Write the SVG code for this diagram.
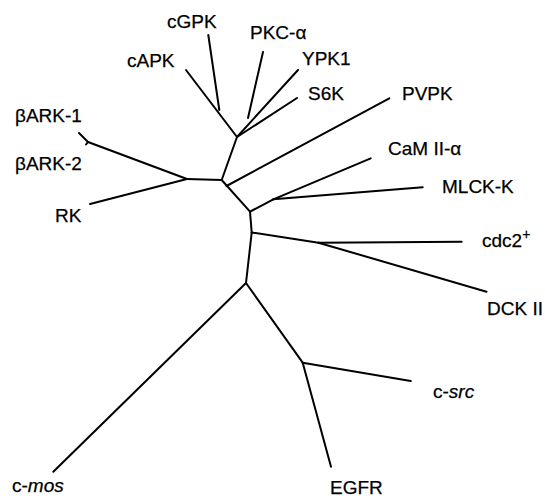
<svg xmlns="http://www.w3.org/2000/svg" width="545" height="500" viewBox="0 0 545 500">
<style>
.e{stroke:#000;stroke-width:2;fill:none;stroke-linecap:round;stroke-linejoin:round}
text{font-family:"Liberation Sans",Arial,sans-serif;font-size:19px;fill:#000;stroke:#000;stroke-width:0.25}
.i{font-style:italic}
</style>
<rect width="545" height="500" fill="#fff"/>
<g id="connectors" class="e">
<line x1="208.3" y1="35" x2="219.3" y2="110"/>
<line x1="186" y1="70" x2="237" y2="137"/>
<line x1="263" y1="52" x2="248" y2="118"/>
<line x1="298" y1="70" x2="237" y2="137"/>
<line x1="297" y1="98" x2="237" y2="137"/>
<line x1="237" y1="137" x2="221.7" y2="180"/>
<line x1="79" y1="133" x2="88" y2="142"/>
<line x1="86" y1="144.5" x2="88" y2="142"/>
<line x1="88" y1="142" x2="187" y2="179"/>
<line x1="90" y1="204" x2="187" y2="179"/>
<line x1="187" y1="179" x2="221.7" y2="180"/>
<line x1="389.3" y1="98.3" x2="226.5" y2="186"/>
<line x1="221.7" y1="180" x2="250" y2="211.7"/>
<line x1="370.7" y1="158.3" x2="273.3" y2="199.3"/>
<line x1="422.7" y1="187.3" x2="273.3" y2="199.3"/>
<line x1="273.3" y1="199.3" x2="250" y2="211.7"/>
<line x1="250" y1="211.7" x2="251.7" y2="232.5"/>
<line x1="251.7" y1="232.5" x2="318.5" y2="242.7"/>
<line x1="318.5" y1="242.7" x2="461.7" y2="241.7"/>
<line x1="318.5" y1="242.7" x2="486.5" y2="291.7"/>
<line x1="251.7" y1="232.5" x2="246" y2="283"/>
<line x1="246" y1="283" x2="53.3" y2="471.7"/>
<line x1="246" y1="283" x2="302.7" y2="362.7"/>
<line x1="302.7" y1="362.7" x2="410.7" y2="381"/>
<line x1="302.7" y1="362.7" x2="331" y2="466.7"/>
</g>
<g id="cGPK"><text x="167" y="28">cGPK</text></g>
<g id="PKC-alpha"><text x="250" y="39">PKC-α</text></g>
<g id="cAPK"><text x="127" y="67">cAPK</text></g>
<g id="YPK1"><text x="302" y="65">YPK1</text></g>
<g id="S6K"><text x="308" y="100">S6K</text></g>
<g id="bARK-1"><text x="15" y="121.5">βARK-1</text></g>
<g id="bARK-2"><text x="15" y="170">βARK-2</text></g>
<g id="RK"><text x="55" y="222">RK</text></g>
<g id="PVPK"><text x="402" y="100">PVPK</text></g>
<g id="CaMII-alpha"><text x="388" y="155">CaM II-α</text></g>
<g id="MLCK-K"><text x="442" y="193">MLCK-K</text></g>
<g id="cdc2"><text x="482" y="247">cdc2<tspan dy="-8" font-size="14">+</tspan></text></g>
<g id="DCKII"><text x="487" y="315">DCK II</text></g>
<g id="c-src"><text x="433" y="398">c-<tspan class="i">src</tspan></text></g>
<g id="c-mos"><text x="12" y="492">c-<tspan class="i">mos</tspan></text></g>
<g id="EGFR"><text x="330" y="494">EGFR</text></g>
</svg>
